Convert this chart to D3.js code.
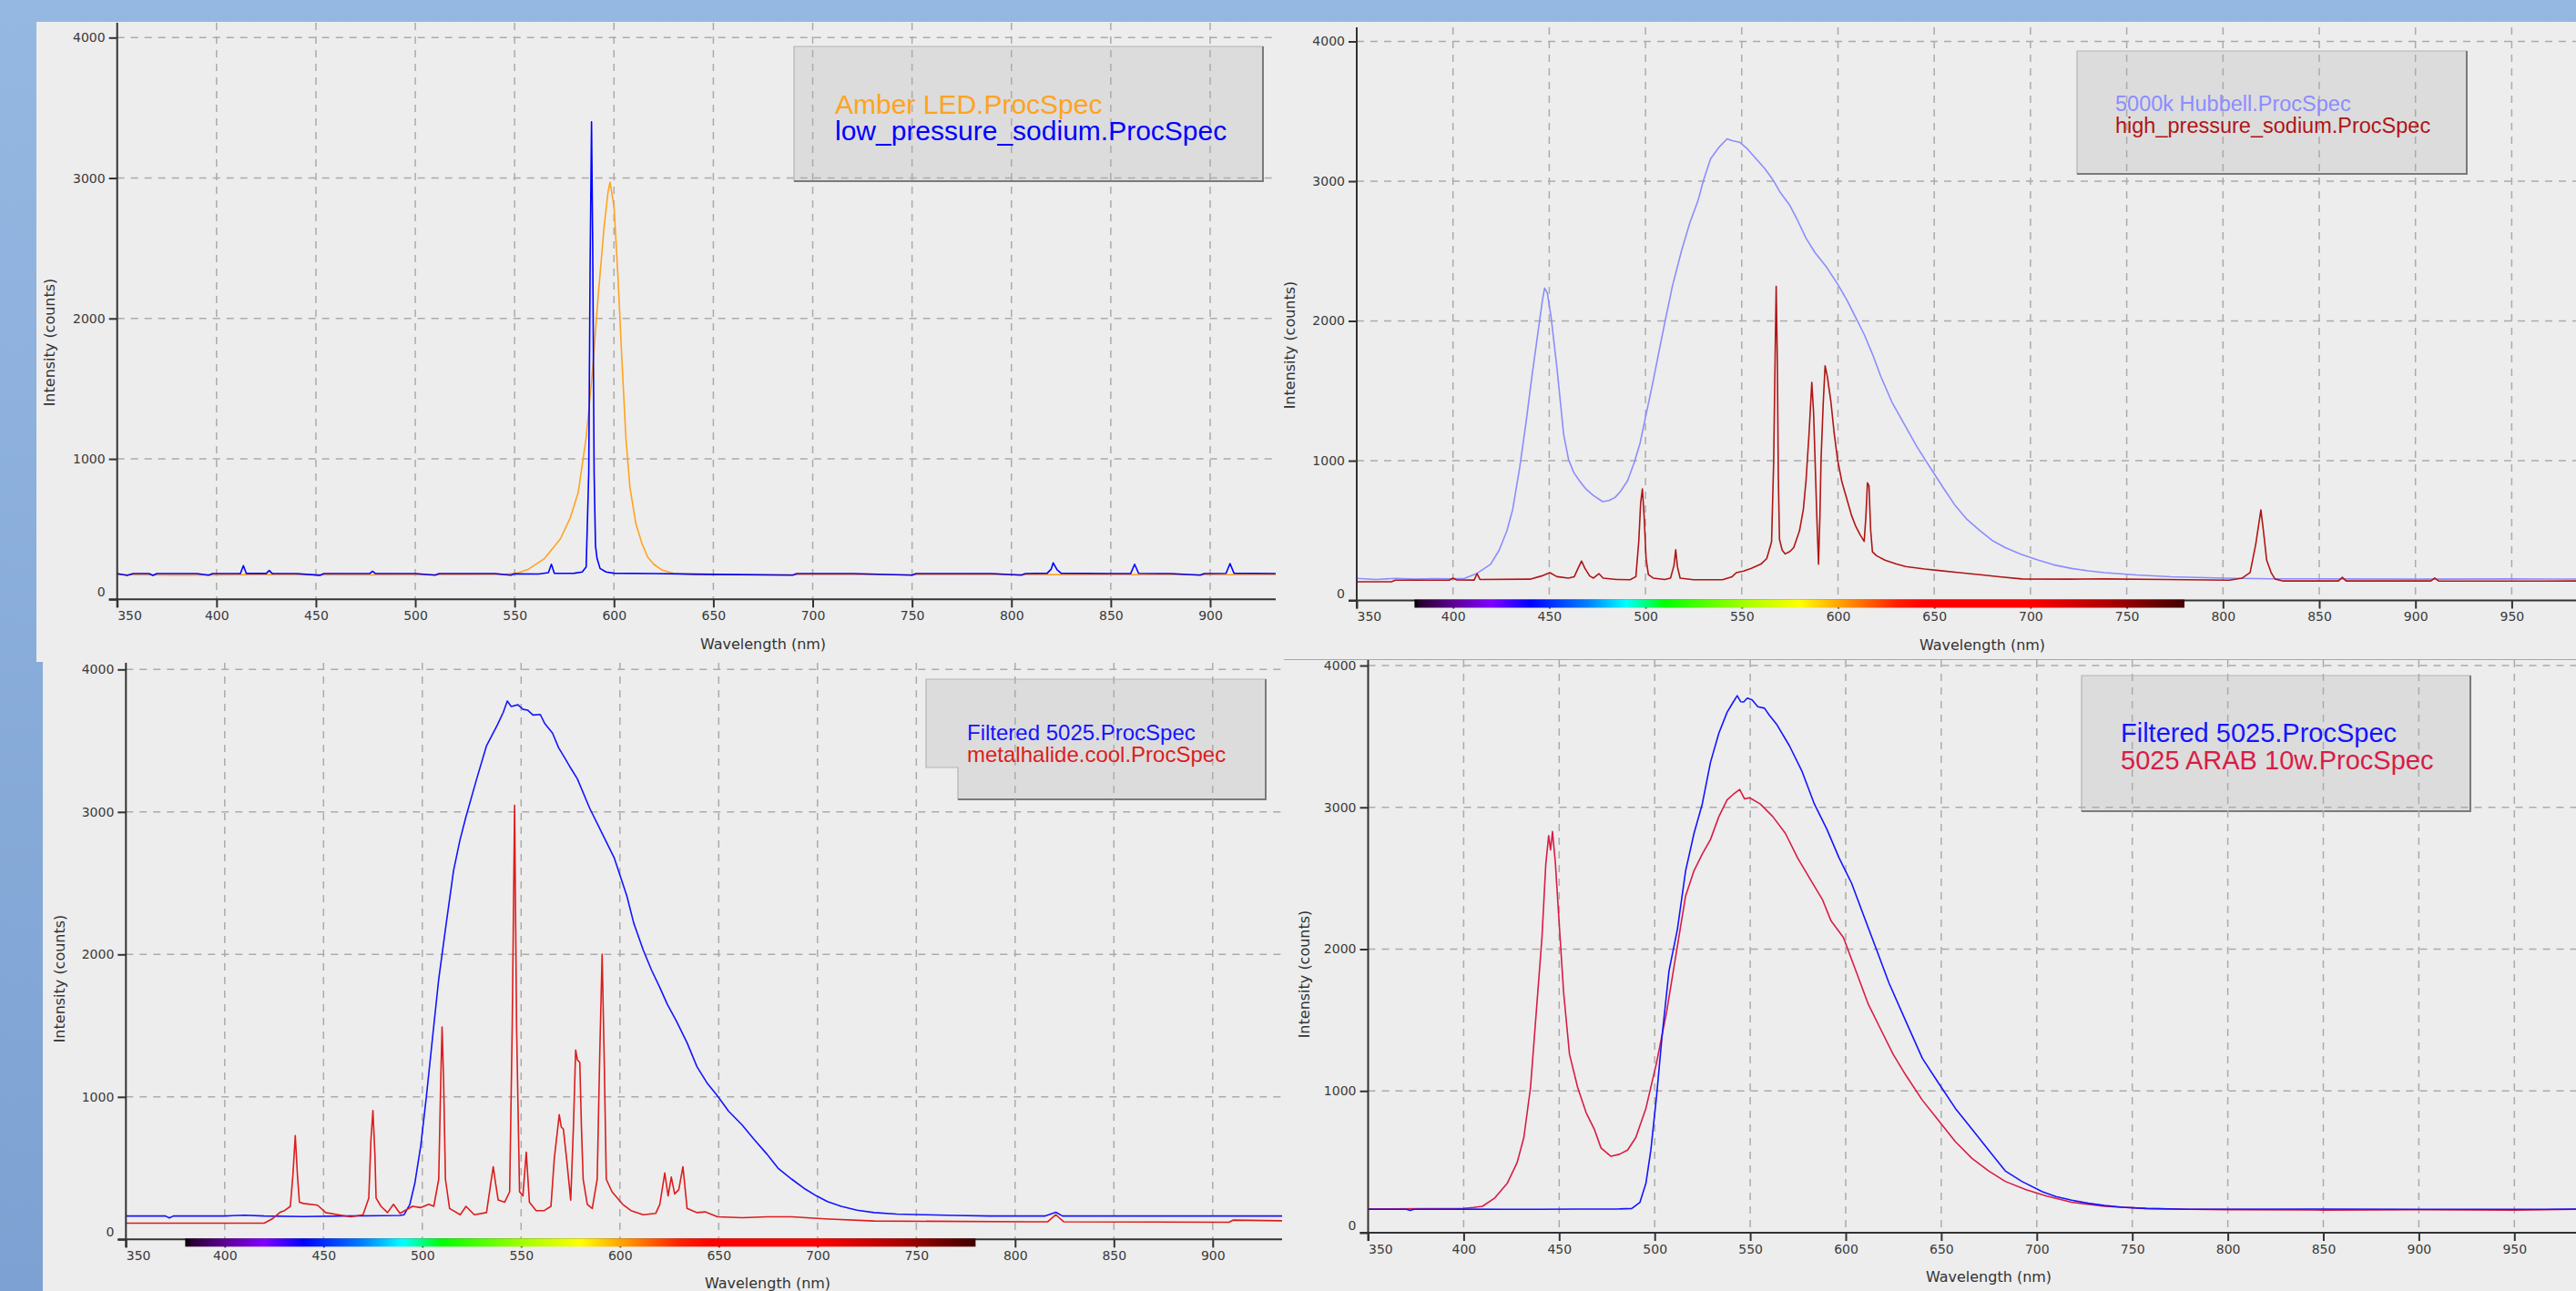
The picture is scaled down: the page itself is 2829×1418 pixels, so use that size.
<!DOCTYPE html>
<html>
<head>
<meta charset="utf-8">
<script src="https://cdnjs.cloudflare.com/ajax/libs/d3/7.8.5/d3.min.js"></script>
<style>
html, body { margin: 0; padding: 0; background: #8fb3de; }
svg { display: block; }
</style>
</head>
<body>
<svg id="chart" width="2829" height="1418"></svg>
<script>

// tick values shared by all four spectra
var yTicks = [0, 1000, 2000, 3000, 4000];
var xTicksShort = [350, 400, 450, 500, 550, 600, 650, 700, 750, 800, 850, 900];
var xTicksLong = [350, 400, 450, 500, 550, 600, 650, 700, 750, 800, 850, 900, 950];

// panel 1 : amber LED vs low pressure sodium  [wavelength nm, counts]
var amberLED = [[350,175],[380,172],[420,176],[470,174],[520,176],[545,178],[552,190],[557,215],[565,290],[573,430],
    [578,580],[582,760],[586,1150],[589,1600],[592,2150],[595,2650],[597,2900],[598,2970],[600,2800],[602,2300],
    [604,1700],[606,1150],[608,800],[611,540],[614,400],[617,300],[620,250],[624,210],[630,185],[640,176],
    [700,175],[800,176],[933,175]];

var lowPressureSodium = [[350,183],[355,170],[358,183],[366,183],[368,170],[370,183],[390,183],[396,172],[398,183],
    [412,183],[413.5,240],[415,184],[425,184],[426.5,205],[428,184],[440,183],[452,171],[454,183],[477,183],
    [478.5,200],[480,183],[500,183],[510,172],[512,183],[540,183],[548,172],[550,182],[562,180],[567,190],
    [568.5,250],[570,185],[580,186],[584,195],[586,230],[587.3,900],[588,2400],[588.7,3400],[589.3,2500],
    [590,900],[590.7,380],[591.5,290],[593,220],[596,195],[600,186],[620,183],[650,178],[690,172],[692,183],
    [720,183],[750,172],[752,183],[790,183],[805,172],[807,183],[818,186],[820,215],[821,260],[823,210],
    [825,186],[850,183],[860,183],[862,250],[864,185],[880,183],[895,172],[897,183],[908,185],[910,255],
    [912,186],[933,183]];

// panel 2 : 5000k Hubbell vs high pressure sodium
var hubbell5000k = [[350,158],[360,150],[370,158],[380,152],[390,156],[400,155],[406,158],[412,190],[419.5,258],
    [424,360],[428,498],[431,650],[434.6,946],[438,1280],[441,1604],[444.6,1963],[446.5,2150],[447.6,2235],
    [449,2200],[451,2023],[454,1664],[457.5,1186],[460,1010],[462.7,916],[466,850],[469.1,797],[473,750],
    [477.8,707],[481,715],[484.2,737],[487,780],[490.7,857],[494,980],[497.2,1126],[500,1310],[503.6,1545],
    [507,1780],[510.1,1993],[514,2250],[518.7,2502],[523,2700],[527.3,2861],[530,3000],[533.8,3160],[538,3240],
    [542.4,3303],[545,3290],[548.9,3279],[553,3230],[557.5,3160],[562,3090],[566.2,3010],[570,2920],[574.8,2831],
    [579,2720],[583.4,2592],[588,2490],[594.2,2382],[600,2260],[604.9,2143],[609,2030],[613.6,1904],[618,1760],
    [622.2,1604],[628,1420],[635.1,1245],[641,1100],[648.1,946],[655,800],[661,677],[667,580],[673.9,498],
    [680,430],[686.9,378],[695,330],[704.1,288],[712,255],[721.4,229],[730,212],[738.6,199],[755,182],
    [773.1,169],[800,160],[824.9,155],[860,154],[900,152],[950,154],[984,153]];

var highPressureSodium = [[350,134],[368,134],[370,145],[398,145],[400,160],[402,147],[411,146],[412.5,192],
    [414,150],[440,152],[446,175],[450.3,199],[454,170],[460,160],[463,170],[465,230],[466.8,282],[468.5,230],
    [471,175],[473,160],[475.8,192],[478,160],[485,150],[492,148],[495,170],[496.5,420],[497.5,700],[498.4,797],
    [499.3,600],[500.3,300],[501.5,185],[504,160],[510,150],[513,160],[514.8,250],[515.7,363],[516.6,240],
    [518,160],[525,148],[540,148],[545,170],[547.2,199],[551,210],[555,230],[560,260],[563,300],[565.5,420],
    [566.6,1000],[567.4,1800],[567.9,2248],[568.5,1700],[569,900],[569.6,438],[571,360],[572.6,333],[575,350],
    [577,378],[580,498],[582,650],[583.4,857],[585,1200],[586.4,1560],[587.3,1350],[588.1,1006],[589,600],
    [589.9,259],[590.6,600],[591.2,1006],[592.3,1400],[593.3,1679],[594.5,1600],[596.3,1425],[598,1200],
    [599.8,1006],[602,850],[605,707],[607,610],[609.3,528],[611.5,470],[613.6,423],[614.5,600],[615.3,842],
    [616.1,820],[617,500],[617.9,348],[620,320],[624.4,288],[630,262],[635.1,243],[645,225],[652.4,214],
    [662,200],[673.9,184],[685,168],[695.5,154],[720,152],[738.6,154],[770,150],[803.3,145],[810,160],
    [814.1,199],[817,400],[819.7,648],[821,500],[822.7,288],[825,200],[827,154],[831.3,139],[860,139],
    [862,165],[864,139],[908,139],[910,160],[912,139],[950,138],[984,139]];

// panel 3 : filtered 5025 vs metal halide (cool)
var filtered5025 = [[350,164],[370,164],[372,150],[374,164],[400,164],[410,170],[420,164],[440,160],[460,164],
    [480,166],[488.7,168],[490.8,173],[493.7,246],[496.2,393],[499.2,656],[502.1,1007],[505.4,1446],[508.3,1826],
    [511.7,2177],[515.8,2587],[519,2800],[522.1,2967],[527.5,3231],[532.5,3465],[538,3611],[541,3700],
    [543,3778],[545,3740],[548.4,3752],[551,3720],[553.4,3714],[556,3680],[559.7,3684],[562,3620],[565.9,3553],
    [569,3450],[572.2,3377],[575,3310],[578.5,3231],[584.7,3026],[591,2850],[597.2,2675],[603.5,2411],
    [607,2220],[611.8,2031],[616,1890],[620.2,1768],[624,1650],[628.5,1534],[634,1380],[639,1212],[644,1100],
    [649.4,1007],[655,900],[661.9,802],[668,700],[674.5,597],[680,500],[687,422],[693,360],[699.5,305],
    [705,265],[712,232],[720,205],[728.7,188],[740,178],[753.8,173],[770,168],[787.2,164],[815,164],
    [820.6,190],[824,164],[870,164],[900,164],[938,164]];

var metalHalideCool = [[350,114],[420,114],[424,144],[428,190],[430.3,202],[433.2,232],[434.5,450],[435.7,729],
    [436.8,450],[437.8,261],[439.9,252],[447,240],[451.1,188],[457.4,173],[463.7,158],[470,173],[472.9,290],
    [474,700],[475,904],[476,600],[476.6,290],[479.1,232],[482.4,188],[485.4,246],[488.7,182],[495,232],
    [499.1,223],[503.3,246],[505.8,232],[508.3,422],[509.3,1100],[510,1490],[510.8,1100],[511.7,422],
    [513.8,217],[519.2,173],[522.1,232],[526.3,173],[532.5,188],[534.5,380],[535.9,510],[537,400],[538.4,276],
    [541.7,261],[544.2,334],[545.5,1500],[546.7,3046],[547.7,1500],[549.2,334],[550.9,305],[552.6,612],
    [554.2,261],[557.6,202],[561.7,202],[565.1,232],[566.8,568],[569.3,875],[570.3,790],[571.4,773],[573,568],
    [575.1,276],[576.5,800],[577.6,1329],[578.5,1260],[579.7,1241],[580.5,800],[581.4,422],[583.5,246],
    [586,217],[588.5,422],[589.8,1300],[591,2002],[592,1300],[593.1,422],[596,334],[601.4,246],[605.6,202],
    [611.8,173],[618.1,182],[620.2,246],[622.7,466],[624.4,305],[626,437],[627.7,319],[629.8,349],[631.9,510],
    [634,217],[639,188],[643.1,193],[649.4,158],[662,152],[674.5,158],[687,158],[703.7,144],[728.7,129],
    [808,123],[816.4,123],[820.6,173],[824.7,123],[908.2,120],[910.3,135],[938,130]];

// panel 4 : filtered 5025 vs 5025 ARAB 10w
var filtered5025b = [[350,165],[370,165],[372,158],[374,165],[400,166],[420,165],[440,165],[460,167],[480,167],
    [488,171],[492.3,215],[495.4,348],[498,583],[501,965],[504,1406],[507.5,1847],[511.9,2141],[516.2,2553],
    [520.6,2817],[524.9,3023],[529.2,3317],[533.6,3523],[537.9,3670],[541,3740],[543.2,3787],[545,3745],
    [546.6,3743],[548.5,3770],[551,3758],[554,3710],[557.5,3699],[560,3650],[564,3582],[570.5,3435],[577,3258],
    [583.6,3023],[590.1,2847],[596.6,2641],[603.1,2464],[609.6,2229],[616.2,1994],[622.7,1759],[631.4,1494],
    [640.1,1230],[648.7,1053],[657.4,877],[666.1,730],[674.8,583],[683.5,436],[692.2,362],[703,289],[710,255],
    [718.3,230],[727,208],[735.6,192],[745,180],[757.4,171],[779.1,165],[850,167],[900,165],[950,165],[983,166]];

var arab5025 = [[350,168],[380,170],[400,172],[405,178],[409.8,186],[416.3,245],[422.8,348],[428,495],[431.5,671],
    [435,1024],[438,1553],[441,2082],[443,2600],[444.5,2800],[445.5,2700],[446.5,2830],[448,2611],[450.2,2141],
    [452.3,1700],[455.4,1259],[459.7,1024],[464.1,847],[468.4,730],[471.9,598],[477.1,539],[481.5,553],
    [485.8,583],[490.1,671],[495.4,877],[501,1200],[506.2,1553],[511.9,2023],[516.2,2376],[520.6,2553],
    [524.9,2670],[529.2,2773],[533.6,2935],[537.9,3052],[541,3090],[544.5,3126],[547,3060],[549.7,3067],
    [555.3,3023],[561.8,2935],[568.4,2817],[574.9,2641],[581.4,2494],[587.9,2347],[592.3,2200],[598.8,2082],
    [605.3,1847],[611.8,1612],[618.3,1435],[624.8,1259],[631.4,1112],[640.1,935],[648.7,789],[657.4,642],
    [666.1,524],[674.8,436],[683.5,362],[694.4,304],[705.2,259],[718.3,215],[735.6,186],[757.4,171],[780,165],
    [800,163],[850,160],[900,162],[950,160],[983,165]];

// visible spectrum colour bar (wavelength, colour)
var spectrumStops = [[380,"#000000"],[383,"#2a0032"],[400,"#5c0090"],[420,"#8000ff"],[440,"#0000ff"],
    [470,"#0080ff"],[490,"#00ffff"],[510,"#00ff00"],[550,"#a0ff00"],[580,"#ffff00"],[605,"#ff9000"],
    [630,"#ff2000"],[645,"#ff0000"],[700,"#ff0000"],[740,"#b00000"],[780,"#400000"]];

// panel layout (pixel geometry of each screenshot)
var panels = [
    { id: 1, clip: [40, 24, 1410, 727], plotL: 128.7, plotT: 25, plotR: 1401,
      x350: 128.7, x900: 1329, y0: 658.3, y4000: 41.3, xTicks: xTicksShort, colorbar: false,
      series: [[amberLED, "#ffa31f"], [lowPressureSodium, "#0000ff"]],
      legend: { box: [872, 51, 1387, 199], tx: 917, ty: [124.5, 154], fs: 30,
                names: ["Amber LED.ProcSpec", "low_pressure_sodium.ProcSpec"], colors: ["#ffa31f", "#0000ff"] },
      xlabel: [838, 713], ylabel: [54, 376] },
    { id: 2, clip: [1410, 24, 2829, 724], plotL: 1490, plotT: 30, plotR: 2829,
      x350: 1490, x900: 2652.7, y0: 659.5, y4000: 45.5, xTicks: xTicksLong, colorbar: true,
      series: [[hubbell5000k, "#8c8cff"], [highPressureSodium, "#b01515"]],
      legend: { box: [2281, 56, 2709, 191], tx: 2323, ty: [122, 146], fs: 23.5,
                names: ["5000k Hubbell.ProcSpec", "high_pressure_sodium.ProcSpec"], colors: ["#8c8cff", "#b01515"] },
      xlabel: [2177, 714], ylabel: [1416, 379] },
    { id: 3, clip: [47, 727, 1410, 1418], plotL: 138.3, plotT: 728, plotR: 1408,
      x350: 138.3, x900: 1331.8, y0: 1361.3, y4000: 735.3, xTicks: xTicksShort, colorbar: true,
      series: [[filtered5025, "#1414ff"], [metalHalideCool, "#dd1c1c"]],
      legend: { box: [1017, 746, 1390, 878], notch: [1052, 843], tx: 1062, ty: [813.3, 836.7], fs: 24,
                names: ["Filtered 5025.ProcSpec", "metalhalide.cool.ProcSpec"], colors: ["#1414ff", "#dd1c1c"] },
      xlabel: [843, 1415], ylabel: [65, 1075] },
    { id: 4, clip: [1410, 725, 2829, 1418], plotL: 1502.5, plotT: 725, plotR: 2829,
      x350: 1502.5, x900: 2656.4, y0: 1354, y4000: 731, xTicks: xTicksLong, colorbar: false,
      series: [[arab5025, "#d81c46"], [filtered5025b, "#1414ff"]],
      legend: { box: [2286, 742, 2713, 891], tx: 2329, ty: [814.5, 844.5], fs: 29,
                names: ["Filtered 5025.ProcSpec", "5025 ARAB 10w.ProcSpec"], colors: ["#1414ff", "#d81c46"] },
      xlabel: [2184, 1408], ylabel: [1432, 1070] }
];

var svg = d3.select("#chart");
var defs = svg.append("defs");

// blue desktop background
var bg = defs.append("linearGradient").attr("id", "bg")
    .attr("x1", 0).attr("y1", 0).attr("x2", 0).attr("y2", 1);
bg.append("stop").attr("offset", "0%").attr("stop-color", "#95b8e2");
bg.append("stop").attr("offset", "100%").attr("stop-color", "#7da1d2");
svg.append("rect").attr("width", 2829).attr("height", 1418).attr("fill", "url(#bg)");

function drawPanel(p) {
    var c = p.clip;
    defs.append("clipPath").attr("id", "panel" + p.id)
        .append("rect").attr("x", c[0]).attr("y", c[1]).attr("width", c[2] - c[0]).attr("height", c[3] - c[1]);
    defs.append("clipPath").attr("id", "plot" + p.id)
        .append("rect").attr("x", p.plotL).attr("y", p.plotT)
        .attr("width", p.plotR - p.plotL).attr("height", p.y0 - p.plotT);

    var g = svg.append("g").attr("clip-path", "url(#panel" + p.id + ")");
    g.append("rect").attr("x", c[0]).attr("y", c[1]).attr("width", c[2] - c[0]).attr("height", c[3] - c[1])
        .attr("fill", "#ededed");

    var x = d3.scaleLinear().domain([350, 900]).range([p.x350, p.x900]);
    var y = d3.scaleLinear().domain([0, 4000]).range([p.y0, p.y4000]);

    // legend box (drawn under the grid, as in the original)
    var L = p.legend, b = L.box;
    var pts = L.notch
        ? [[b[0], b[1]], [b[2], b[1]], [b[2], b[3]], [L.notch[0], b[3]], [L.notch[0], L.notch[1]], [b[0], L.notch[1]]]
        : [[b[0], b[1]], [b[2], b[1]], [b[2], b[3]], [b[0], b[3]]];
    g.append("polygon").attr("points", pts.map(function (d) { return d.join(","); }).join(" "))
        .attr("fill", "#dcdcdc").attr("stroke", "#b4b4b4").attr("stroke-width", 1.2);
    g.append("polyline")
        .attr("points", [[b[2], b[1]], [b[2], b[3]], [L.notch ? L.notch[0] : b[0], b[3]]].map(function (d) { return d.join(","); }).join(" "))
        .attr("fill", "none").attr("stroke", "#7a7a7a").attr("stroke-width", 2);

    // dashed grid
    var grid = g.append("g").attr("stroke", "#ababab").attr("stroke-width", 1.5).attr("stroke-dasharray", "8,7");
    grid.selectAll(".h").data(yTicks.slice(1)).enter().append("line")
        .attr("x1", p.plotL).attr("x2", p.plotR)
        .attr("y1", function (d) { return y(d); }).attr("y2", function (d) { return y(d); });
    grid.selectAll(".v").data(p.xTicks.slice(1)).enter().append("line")
        .attr("y1", p.plotT).attr("y2", p.y0)
        .attr("x1", function (d) { return x(d); }).attr("x2", function (d) { return x(d); });

    // spectra
    var line = d3.line().x(function (d) { return x(d[0]); }).y(function (d) { return y(d[1]); });
    var curves = g.append("g").attr("clip-path", "url(#plot" + p.id + ")");
    p.series.forEach(function (s) {
        curves.append("path").datum(s[0]).attr("d", line)
            .attr("fill", "none").attr("stroke", s[1]).attr("stroke-width", 1.6)
            .attr("stroke-linejoin", "round");
    });

    // legend text
    L.names.forEach(function (name, i) {
        g.append("text").attr("x", L.tx).attr("y", L.ty[i])
            .attr("font-family", "'Liberation Sans', Arial, sans-serif").attr("font-size", L.fs)
            .attr("fill", L.colors[i]).text(name);
    });

    // axes
    var xAxis = d3.axisBottom(x).tickValues(p.xTicks).tickFormat(d3.format("d"))
        .tickSize(9).tickPadding(4).tickSizeOuter(0);
    var gx = g.append("g").attr("transform", "translate(0," + p.y0 + ")").call(xAxis)
        .attr("font-family", "'DejaVu Sans', sans-serif").attr("font-size", 14);
    gx.select(".domain").remove();
    gx.selectAll(".tick line").attr("stroke", "#333").attr("stroke-width", 2);
    gx.selectAll(".tick text").attr("fill", "#3a3a3a")
        .filter(function (d) { return d === 350; }).attr("text-anchor", "start");

    var yAxis = d3.axisLeft(y).tickValues(yTicks).tickFormat(d3.format("d"))
        .tickSize(9).tickPadding(4).tickSizeOuter(0);
    var gy = g.append("g").attr("transform", "translate(" + p.plotL + ",0)").call(yAxis)
        .attr("font-family", "'DejaVu Sans', sans-serif").attr("font-size", 14);
    gy.select(".domain").remove();
    gy.selectAll(".tick line").attr("stroke", "#333").attr("stroke-width", 2);
    gy.selectAll(".tick text").attr("fill", "#3a3a3a")
        .filter(function (d) { return d === 0; }).attr("dy", "-0.25em");

    g.append("line").attr("x1", p.plotL - 9).attr("x2", p.plotR).attr("y1", p.y0).attr("y2", p.y0)
        .attr("stroke", "#333").attr("stroke-width", 2);
    g.append("line").attr("x1", p.plotL).attr("x2", p.plotL).attr("y1", p.plotT).attr("y2", p.y0 + 9)
        .attr("stroke", "#333").attr("stroke-width", 2);

    // colour bar under the axis
    if (p.colorbar) {
        var gid = "spec" + p.id;
        var grad = defs.append("linearGradient").attr("id", gid)
            .attr("gradientUnits", "userSpaceOnUse")
            .attr("x1", x(380)).attr("x2", x(780)).attr("y1", 0).attr("y2", 0);
        spectrumStops.forEach(function (s) {
            grad.append("stop").attr("offset", ((s[0] - 380) / 400 * 100) + "%").attr("stop-color", s[1]);
        });
        g.append("rect").attr("x", x(380)).attr("y", p.y0 - 1).attr("width", x(780) - x(380)).attr("height", 9)
            .attr("fill", "url(#" + gid + ")");
    }

    // axis titles
    g.append("text").attr("x", p.xlabel[0]).attr("y", p.xlabel[1]).attr("text-anchor", "middle")
        .attr("font-family", "'DejaVu Sans', sans-serif").attr("font-size", 16).attr("fill", "#333")
        .text("Wavelength (nm)");
    g.append("text").attr("transform", "translate(" + p.ylabel[0] + "," + p.ylabel[1] + ") rotate(-90)")
        .attr("text-anchor", "middle").attr("dy", "0.35em")
        .attr("font-family", "'DejaVu Sans', sans-serif").attr("font-size", 16).attr("fill", "#333")
        .text("Intensity (counts)");
}

panels.forEach(drawPanel);

</script>
</body>
</html>
